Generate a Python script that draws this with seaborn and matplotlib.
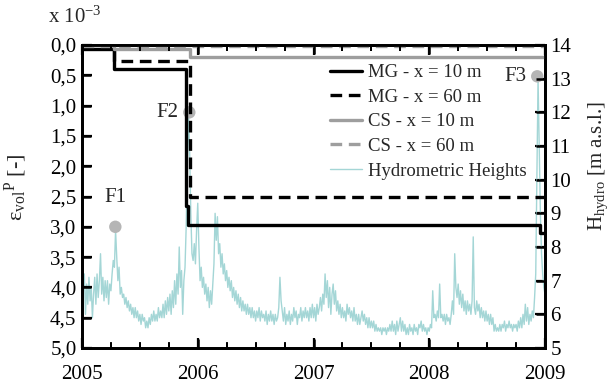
import numpy as np
import pandas as pd
import matplotlib
matplotlib.use('Agg')
import matplotlib.pyplot as plt
import seaborn as sns
from matplotlib.ticker import MultipleLocator, FixedLocator

# ---------------- data ----------------
years = [2005, 2006, 2007, 2008, 2009]
strain_ticks = [0.0, 0.5, 1.0, 1.5, 2.0, 2.5, 3.0, 3.5, 4.0, 4.5, 5.0]
strain_labels = ['0,0', '0,5', '1,0', '1,5', '2,0', '2,5', '3,0', '3,5', '4,0', '4,5', '5,0']
hydro_ticks = [5, 6, 7, 8, 9, 10, 11, 12, 13, 14]

# plastic volumetric strain (x 10^-3), step series
mg10_t = [2005.0, 2005.275, 2005.900, 2005.920, 2008.955, 2009.0]
mg10_v = [0.07, 0.40, 2.65, 2.97, 3.10, 3.10]
mg60_t = [2005.0, 2005.280, 2005.930, 2009.0]
mg60_v = [0.00, 0.27, 2.50, 2.50]
cs10_t = [2005.0, 2005.280, 2005.930, 2009.0]
cs10_v = [0.00, 0.07, 0.20, 0.20]
cs60_t = [2005.0, 2009.0]
cs60_v = [0.01, 0.01]

# hydrometric heights [m a.s.l.], sampled every 0.01 year from 2005.00
hydro_start = 2005.0
hydro_step = 0.01
hydro_v = [
    7.5, 6.6, 7.2, 6.0, 6.9, 6.3, 7.1, 6.4, 6.8, 5.9,
    6.6, 7.1, 6.3, 7.2, 6.5, 7.0, 7.8, 6.6, 7.1, 6.4,
    7.0, 6.5, 7.0, 6.3, 6.9, 6.7, 7.2, 7.6, 7.4, 8.5,
    7.7, 7.0, 7.4, 6.6, 6.8, 6.5, 6.6, 6.3, 6.5, 6.2,
    6.4, 6.1, 6.3, 6.0, 6.2, 5.9, 6.2, 5.9, 6.1, 5.8,
    6.0, 5.7, 6.0, 5.8, 5.9, 5.6, 5.8, 5.6, 5.9, 5.7,
    6.0, 5.8, 6.1, 5.8, 6.0, 5.8, 6.2, 5.9, 6.1, 5.9,
    6.3, 5.9, 6.4, 6.0, 6.5, 6.1, 6.6, 6.0, 6.7, 6.2,
    7.0, 6.3, 7.2, 6.6, 8.0, 6.8, 7.3, 6.0, 7.0, 7.4,
    8.6, 10.5, 12.0, 10.8, 9.0, 7.8, 7.6, 8.1, 7.5, 8.5,
    9.3, 8.0, 7.0, 7.4, 6.8, 7.1, 6.6, 6.9, 6.4, 6.8,
    6.2, 6.7, 6.3, 6.9, 7.5, 9.0, 8.2, 8.9, 7.8, 8.1,
    7.4, 7.8, 7.2, 7.5, 7.0, 7.3, 6.8, 7.1, 6.7, 7.0,
    6.5, 6.8, 6.4, 6.7, 6.3, 6.6, 6.2, 6.5, 6.1, 6.4,
    6.1, 6.3, 6.0, 6.3, 6.0, 6.2, 5.9, 6.2, 5.9, 6.1,
    5.8, 6.1, 5.9, 6.2, 5.8, 6.1, 5.9, 6.0, 5.8, 6.1,
    5.7, 6.0, 5.8, 6.1, 5.8, 6.0, 5.7, 6.0, 5.8, 5.9,
    6.2, 7.1, 6.4, 6.1, 5.8, 6.2, 5.7, 6.0, 5.8, 6.1,
    5.7, 6.0, 5.8, 6.2, 5.9, 6.1, 5.7, 6.0, 5.9, 6.2,
    5.8, 6.1, 5.9, 6.2, 5.9, 6.1, 5.8, 6.2, 5.9, 6.3,
    5.9, 6.2, 5.8, 6.3, 6.0, 6.2, 6.5, 6.1, 6.6, 6.3,
    7.2, 6.5, 7.0, 6.2, 6.8, 6.0, 6.6, 6.9, 6.3, 6.7,
    6.1, 6.4, 6.0, 6.3, 5.9, 6.2, 5.9, 6.1, 5.8, 6.3,
    6.0, 6.2, 5.9, 6.1, 5.8, 6.2, 5.8, 6.0, 5.7, 6.0,
    5.7, 5.9, 6.1, 5.8, 6.0, 5.7, 5.9, 5.6, 5.9, 5.6,
    5.8, 5.6, 5.8, 5.5, 5.7, 5.5, 5.6, 5.5, 5.6, 5.4,
    5.6, 5.5, 5.6, 5.4, 5.6, 5.5, 5.7, 5.5, 5.8, 5.5,
    5.7, 5.4, 5.8, 5.5, 5.7, 5.9, 5.5, 5.8, 5.5, 5.7,
    5.4, 5.6, 5.4, 5.7, 5.5, 5.6, 5.4, 5.7, 5.5, 5.6,
    5.4, 5.7, 5.6, 5.8, 5.5, 5.7, 5.5, 5.6, 5.4, 5.6,
    5.5, 5.7, 5.6, 6.7, 5.9, 6.0, 5.8, 6.1, 5.9, 6.9,
    5.9, 6.0, 5.8, 6.0, 5.7, 6.0, 5.8, 5.9, 5.7, 6.0,
    6.4, 6.0, 7.8, 6.8, 6.5, 6.9, 6.3, 6.7, 6.2, 6.6,
    6.1, 6.4, 6.0, 6.4, 6.1, 6.3, 6.0, 6.4, 8.3, 6.2,
    6.0, 6.4, 6.1, 6.3, 5.9, 6.2, 5.9, 6.1, 5.8, 6.1,
    5.8, 6.0, 5.7, 6.0, 5.7, 5.9, 5.5, 5.7, 5.5, 5.6,
    5.5, 5.7, 5.5, 5.7, 5.6, 5.8, 5.5, 5.7, 5.6, 5.8,
    5.6, 5.7, 5.5, 5.7, 5.6, 5.7, 5.5, 5.8, 5.6, 5.9,
    5.6, 6.0, 5.7, 6.3, 5.8, 6.2, 5.7, 6.0, 5.8, 6.1,
    5.9, 6.5, 7.2, 10.0, 13.0, 11.0, 9.0, 7.8, 7.2, 6.8,
    6.6,
]
hydro_t = [hydro_start + hydro_step * i for i in range(len(hydro_v))]

# flood events
event_names = ['F1', 'F2', 'F3']
event_t = [2005.288, 2005.927, 2008.933]
event_h = [8.6, 12.0, 13.07]

# ---------------- style ----------------
sns.set_style('ticks')
plt.rcParams.update({
    'font.family': ['Liberation Serif', 'DejaVu Serif'],
    'mathtext.fontset': 'custom',
    'mathtext.rm': 'Liberation Serif',
    'mathtext.it': 'Liberation Serif:italic',
    'mathtext.bf': 'Liberation Serif:bold',
    'xtick.direction': 'in',
    'ytick.direction': 'in',
    'xtick.major.size': 7,
    'xtick.minor.size': 4,
    'ytick.major.size': 7,
    'xtick.major.width': 1.6,
    'xtick.minor.width': 1.3,
    'ytick.major.width': 1.6,
    'xtick.color': 'black',
    'ytick.color': 'black',
    'xtick.labelsize': 15,
    'ytick.labelsize': 15,
})

BLACK = '#000000'
GRAY = '#9e9e9e'
CYAN = '#a4d6d6'
MARK = '#b5b5b5'

AX_W, AX_H = 463, 303
rect = [82 / 616, 1 - 348 / 383, AX_W / 616, AX_H / 383]
fig = plt.figure(figsize=(6.16, 3.83), dpi=100)
# background axes: hydrometric heights (right scale)
ax2 = fig.add_axes(rect)
# foreground axes: plastic strain (left scale), transparent background
ax1 = fig.add_axes(rect, sharex=ax2)
ax1.patch.set_facecolor('none')

# hydrometric heights
sns.lineplot(x=hydro_t, y=hydro_v, ax=ax2, color=CYAN, lw=1.0,
             estimator=None, sort=False, label='Hydrometric Heights')
sns.scatterplot(x=event_t, y=event_h, ax=ax2, color=MARK, s=80,
                edgecolor='none', zorder=5, legend=False)
ax2.annotate(event_names[0], (event_t[0], event_h[0]), xytext=(0, 14),
             textcoords='offset points', ha='center', va='bottom', fontsize=15)
ax2.annotate(event_names[1], (event_t[1], event_h[1]), xytext=(-8, 0),
             textcoords='offset points', ha='right', va='center', fontsize=15)
ax2.annotate(event_names[2], (event_t[2], event_h[2]), xytext=(-8, 0),
             textcoords='offset points', ha='right', va='center', fontsize=15)

# strain step lines
sns.lineplot(x=mg10_t, y=mg10_v, ax=ax1, color=BLACK, lw=2.4,
             drawstyle='steps-post', estimator=None, sort=False,
             label='MG - x = 10 m')
sns.lineplot(x=mg60_t, y=mg60_v, ax=ax1, color=BLACK, lw=2.4,
             drawstyle='steps-post', estimator=None, sort=False,
             dashes=False, linestyle=(0, (3.5, 2)), label='MG - x = 60 m')
sns.lineplot(x=cs10_t, y=cs10_v, ax=ax1, color=GRAY, lw=2.4,
             drawstyle='steps-post', estimator=None, sort=False,
             label='CS - x = 10 m')
sns.lineplot(x=cs60_t, y=cs60_v, ax=ax1, color=GRAY, lw=2.4,
             drawstyle='steps-post', estimator=None, sort=False,
             dashes=False, linestyle=(0, (3.5, 2)), label='CS - x = 60 m')

# tick marks drawn as short segments along the frame (inward)
minor_x = [y + q for y in years[:-1] for q in (0.25, 0.5, 0.75)]
MAJ, MIN = 9.0, 5.5  # tick lengths in pixels
xtr = ax1.get_xaxis_transform()
for lo, hi, pos, lw in ((0, MAJ / AX_H, years, 1.8), (0, MIN / AX_H, minor_x, 1.4),
                        (1 - MAJ / AX_H, 1, years, 1.8), (1 - MIN / AX_H, 1, minor_x, 1.4)):
    ax1.vlines(pos, lo, hi, transform=xtr, colors=BLACK, lw=lw, clip_on=False, zorder=6)
ax1.hlines(strain_ticks, 0, MAJ / AX_W, transform=ax1.get_yaxis_transform(),
           colors=BLACK, lw=1.8, clip_on=False, zorder=6)
ax2.hlines(hydro_ticks, 1 - MAJ / AX_W, 1, transform=ax2.get_yaxis_transform(),
           colors=BLACK, lw=1.8, clip_on=False, zorder=6)

# axes limits & ticks
ax1.set_xlim(years[0], years[-1])
ax1.set_ylim(strain_ticks[-1], strain_ticks[0])
ax1.xaxis.set_major_locator(FixedLocator(years))
ax1.xaxis.set_minor_locator(FixedLocator(minor_x))
ax1.set_xticklabels([str(y) for y in years])
ax1.yaxis.set_major_locator(FixedLocator(strain_ticks))
ax1.set_yticklabels(strain_labels)
ax2.set_ylim(hydro_ticks[0], hydro_ticks[-1])
ax2.yaxis.set_major_locator(FixedLocator(hydro_ticks))
ax2.set_yticklabels([str(h) for h in hydro_ticks])
ax2.yaxis.tick_right()
ax2.yaxis.set_label_position('right')

ax1.tick_params(axis='x', which='both', top=True, bottom=True,
                labelbottom=True, labeltop=False)
ax1.tick_params(axis='y', which='both', left=True, right=False,
                labelleft=True, labelright=False)
ax2.tick_params(axis='x', which='both', bottom=False, top=False,
                labelbottom=False, labeltop=False)
ax2.tick_params(axis='y', which='both', left=False, right=True,
                labelleft=False, labelright=True)
ax1.tick_params(axis='x', which='major', direction='in', length=7, width=1.6, pad=12)
ax1.tick_params(axis='x', which='minor', direction='in', length=4, width=1.3)
ax1.tick_params(axis='y', which='major', direction='in', length=7, width=1.6, pad=4)
ax2.tick_params(axis='y', which='major', direction='in', length=7, width=1.6, pad=4)

for ax in (ax1, ax2):
    for sp in ax.spines.values():
        sp.set_linewidth(2.0)
        sp.set_color(BLACK)

ax1.set_xlabel('')
ax2.set_xlabel('')
ax1.set_ylabel('ε$_{\\rm vol}$$^{\\rm P}$ [-]', fontsize=16)
ax1.yaxis.set_label_coords(-0.115, 0.53)
ax2.set_ylabel(r'H$_{\rm hydro}$ [m a.s.l.]', fontsize=15)
ax2.yaxis.set_label_coords(1.09, 0.60)

fig.text(48 / 616, 1 - 17 / 383, r'x 10$^{\mathregular{-3}}$', fontsize=15,
         ha='left', va='center')

# legend
h1, l1 = ax1.get_legend_handles_labels()
h2, l2 = ax2.get_legend_handles_labels()
if ax2.get_legend() is not None:
    ax2.get_legend().remove()
leg = ax1.legend(h1 + h2, l1 + l2, loc='upper left',
                 bbox_to_anchor=((330 - 82) / 463, 1 - (64 - 45) / 303),
                 frameon=False, fontsize=13.5, handlelength=1.7,
                 handletextpad=0.3, labelspacing=0.4, borderpad=0,
                 borderaxespad=0)

fig.savefig('out.png', dpi=100)
